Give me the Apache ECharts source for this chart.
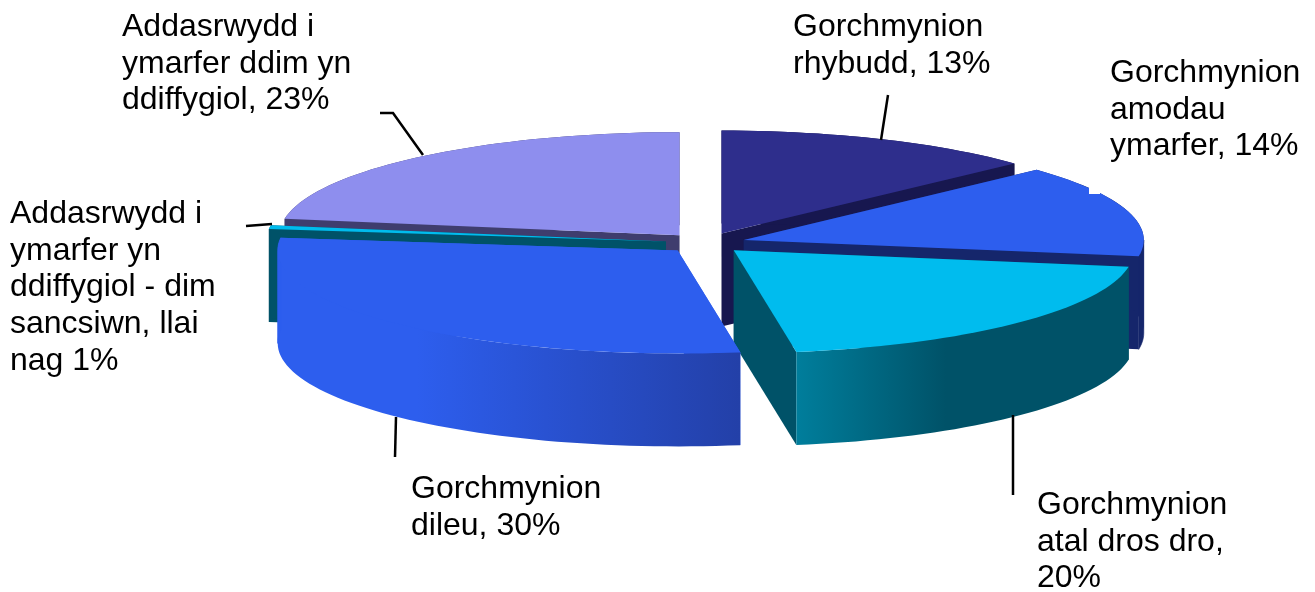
<!DOCTYPE html>
<html>
<head>
<meta charset="utf-8">
<title>Gorchmynion</title>
<style>
    html, body {margin: 0; padding: 0; background: #fff;}
    #main {width: 1315px; height: 592px;}
</style>
<script src="https://cdn.jsdelivr.net/npm/echarts@6/dist/echarts.min.js"></script>
</head>
<body>
<div id="main"></div>
<script>
// values, clockwise from 12 o'clock
let categories = ['Gorchmynion rhybudd', 'Gorchmynion amodau ymarfer', 'Gorchmynion atal dros dro', 'Gorchmynion dileu', 'Addasrwydd i ymarfer yn ddiffygiol - dim sancsiwn', 'Addasrwydd i ymarfer ddim yn ddiffygiol'];
let values = [13.1, 14.49, 20.0, 29.5, 0.6, 22.5];
let labels = [
    'Gorchmynion\nrhybudd, 13%',
    'Gorchmynion\namodau\nymarfer, 14%',
    'Gorchmynion\natal dros dro,\n20%',
    'Gorchmynion\ndileu, 30%',
    'Addasrwydd i\nymarfer yn\nddiffygiol - dim\nsancsiwn, llai\nnag 1%',
    'Addasrwydd i\nymarfer ddim yn\nddiffygiol, 23%'
];

(function() {
    let squash = 0.2575;     // top of the disc is a flattened circle
    let depth = 93;          // height of the disc
    let explode = 0.1;       // part of the radius
    let paintOrder = [0, 5, 4, 1, 2, 3];  // back to front

    let topColors = ['#2e2e8c', '#2d5eee', '#00bcee', '#2d5eee', '#00bcee', '#8e8eee'];
    let wallColors = ['#17174f', '#15266b', '#005268', '#2d5eee', '#005268', '#3f3d6e'];
    let outerColors = [
        '#17174f',
        '#15266b',
        new echarts.graphic.LinearGradient(0, 0, 1, 0, [{offset: 0, color: '#007e9c'}, {offset: 0.45, color: '#005268'}, {offset: 1, color: '#005268'}]),
        new echarts.graphic.LinearGradient(0, 0, 1, 0, [{offset: 0, color: '#2d5eee'}, {offset: 0.3, color: '#2d5eee'}, {offset: 1, color: '#2340a8'}]),
        '#005268',
        '#3f3d6e'
    ];

    // where the labels and leader lines sit, same order as categories
    let labelPos = [[793, 9], [1110, 55], [1037, 487], [411, 471], [10, 196], [122, 9]];
    let leaders = [
        [[888, 95], [881, 140]],
        null,
        [[1013, 415], [1013, 495]],
        [[396, 417], [395, 457]],
        [[246, 226], [272, 224]],
        [[380, 113], [393, 113], [423, 155]]
    ];

    let total = values.reduce((a, b) => a + b, 0);
    let starts = [];
    values.reduce((sum, v, i) => {
        starts[i] = sum;
        return sum + v;
    }, 0);
    let seriesData = paintOrder.map(i => [1, starts[i], i]);

    function renderSlice(params, api) {
        let i = api.value(2);
        let from = starts[i];
        let to = from + values[i];
        let cx = params.coordSys.cx;
        let cy = params.coordSys.cy;
        let mid = api.coord([explode, (from + to) / 2]);
        let ox = mid[0] - cx;
        let oy = (mid[1] - cy) * squash;

        function point(r, v, drop) {
            let p = api.coord([r, v]);
            return [p[0] + ox, cy + (p[1] - cy) * squash + oy + (drop || 0)];
        }

        function arcPoints(a, b) {
            let pts = [];
            let steps = Math.max(2, Math.ceil((b - a) * 2));
            for (let s = 0; s <= steps; s++) {
                pts.push(point(1, a + (b - a) * s / steps));
            }
            return pts;
        }

        function face(points, fill, stroke) {
            return {type: 'polygon', shape: {points: points}, style: {fill: fill, stroke: stroke || null, lineWidth: 0.6}};
        }

        // the round wall has to be split where the disc is widest, or its outline folds in
        let cuts = [from];
        [total / 4, total * 3 / 4].forEach(q => {
            if (q > from && q < to) cuts.push(q);
        });
        cuts.push(to);
        let widest = 0;
        for (let c = 1; c < cuts.length - 1; c++) {
            if (cuts[c + 1] - cuts[c] > cuts[widest + 1] - cuts[widest]) widest = c;
        }
        let walls = [];
        for (let c = 0; c < cuts.length - 1; c++) {
            let band = arcPoints(cuts[c], cuts[c + 1]);
            let low = band.map(p => [p[0], p[1] + depth]).reverse();
            walls.push(face(band.concat(low), c === widest ? outerColors[i] : wallColors[i], cuts.length > 2 && c !== widest ? wallColors[i] : null));
        }

        let apex = point(0, from);
        let apexLow = [apex[0], apex[1] + depth];

        return {
            type: 'group',
            children: [
                face([apex, point(1, from), point(1, from, depth), apexLow], wallColors[i]),
                face([apex, point(1, to), point(1, to, depth), apexLow], wallColors[i])
            ].concat(walls, [
                face([apex].concat(arcPoints(from, to)), topColors[i])
            ])
        };
    }

    let graphics = [];
    labels.forEach((text, i) => {
        graphics.push({
            type: 'text',
            x: labelPos[i][0],
            y: labelPos[i][1],
            z: 100,
            style: {text: text, fill: '#000', font: '32px "Liberation Sans", Arial, sans-serif', lineHeight: 36.6}
        });
        if (leaders[i]) {
            graphics.push({
                type: 'polyline',
                z: 90,
                shape: {points: leaders[i]},
                style: {stroke: '#000', lineWidth: 2.5, fill: null}
            });
        }
    });
    // small white notch on the edge of the second slice
    graphics.push({type: 'rect', z: 95, shape: {x: 1089, y: 186, width: 11, height: 8}, style: {fill: '#fff'}});

    let chart = echarts.init(document.getElementById('main'));
    chart.setOption({
        animation: false,
        backgroundColor: '#fff',
        polar: {center: [705.5, 243], radius: 400},
        radiusAxis: {min: 0, max: 1, show: false},
        angleAxis: {min: 0, max: total, startAngle: 90, show: false},
        series: [{
            type: 'custom',
            coordinateSystem: 'polar',
            clip: false,
            encode: {radius: 0, angle: 1},
            data: seriesData,
            renderItem: renderSlice
        }],
        graphic: graphics
    });
})();
</script>
</body>
</html>
